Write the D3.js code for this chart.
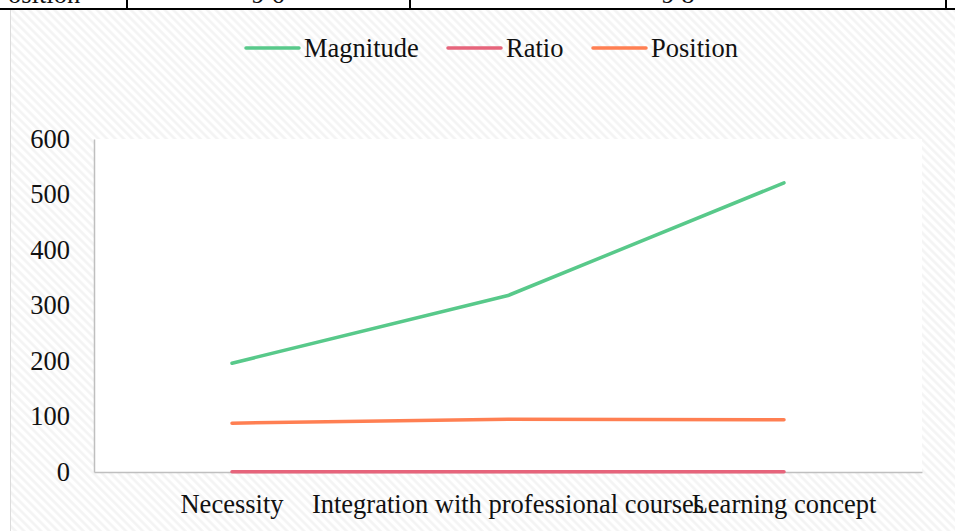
<!DOCTYPE html>
<html lang="en">

<head>
	<meta charset="UTF-8">
	<title>Line Chart</title>
	<script src="https://d3js.org/d3.v7.min.js"></script>
	<style>
		body {
			margin: 0;
			background: #fff;
		}

		text {
			font-family: "Liberation Serif", "Times New Roman", serif;
			font-size: 26.5px;
			fill: #111;
		}

		.series {
			fill: none;
			stroke-width: 3.5px;
			stroke-linecap: round;
			stroke-linejoin: round;
		}
	</style>
</head>

<body>
	<script>
		const width = 955;
		const height = 531;

		const categories = ["Necessity", "Integration with professional courses", "Learning concept"];
		const seriesNames = ["Magnitude", "Ratio", "Position"];
		const magnitude = [196, 318, 521];
		const ratio = [0.3, 0.35, 0.6];
		const position = [88, 95, 94];
		const yTicks = [0, 100, 200, 300, 400, 500, 600];
		const colors = ["#58c98a", "#e6647b", "#ff7f52"];

		const series = [magnitude, ratio, position];

		const margin = { top: 139, right: 33, bottom: 59, left: 94 };

		const svg = d3.select("body").append("svg")
			.attr("width", width)
			.attr("height", height);

		// hatched background
		const pattern = svg.append("defs").append("pattern")
			.attr("id", "hatch")
			.attr("width", 6)
			.attr("height", 6)
			.attr("patternUnits", "userSpaceOnUse")
			.attr("patternTransform", "rotate(-45)");
		pattern.append("rect").attr("width", 6).attr("height", 6).attr("fill", "#fff");
		pattern.append("line")
			.attr("x1", 1.5).attr("y1", 0).attr("x2", 1.5).attr("y2", 6)
			.attr("stroke", "#f3f3f3").attr("stroke-width", 2.5);

		svg.append("rect")
			.attr("x", 10).attr("y", 10)
			.attr("width", width - 10).attr("height", height - 10)
			.attr("fill", "url(#hatch)");

		// piece of the table above the chart
		svg.append("line")
			.attr("x1", 10.5).attr("y1", 10).attr("x2", 10.5).attr("y2", height)
			.attr("stroke", "#dcdcdc").attr("stroke-width", 1);
		svg.append("line")
			.attr("x1", 0).attr("y1", 9).attr("x2", width).attr("y2", 9)
			.attr("stroke", "#000").attr("stroke-width", 2);
		[127, 410, 946].forEach(x => {
			svg.append("line")
				.attr("x1", x).attr("y1", 0).attr("x2", x).attr("y2", 9)
				.attr("stroke", "#000").attr("stroke-width", 2);
		});
		svg.append("text").attr("x", 8).attr("y", 3).text("osition");
		svg.append("text").attr("x", 268).attr("y", 3).attr("text-anchor", "middle").text("9 6");
		svg.append("text").attr("x", 678).attr("y", 3).attr("text-anchor", "middle").text("9 8");

		const x = d3.scaleBand()
			.domain(categories)
			.range([margin.left, width - margin.right]);

		const y = d3.scaleLinear()
			.domain([0, 600])
			.range([height - margin.bottom, margin.top]);

		// plot area
		svg.append("rect")
			.attr("x", margin.left)
			.attr("y", margin.top)
			.attr("width", width - margin.left - margin.right)
			.attr("height", height - margin.top - margin.bottom)
			.attr("fill", "#fff");

		const yAxis = svg.append("g")
			.attr("transform", `translate(${margin.left},0)`)
			.call(d3.axisLeft(y).tickValues(yTicks).tickSize(0).tickPadding(24));
		yAxis.select(".domain").attr("stroke", "#bfbfbf").attr("stroke-width", 1.5);
		yAxis.selectAll("text")
			.attr("dy", "0.32em")
			.style("font-size", "26.5px")
			.style("font-family", "Liberation Serif");

		const xAxis = svg.append("g")
			.attr("transform", `translate(0,${height - margin.bottom})`)
			.call(d3.axisBottom(x).tickSize(0).tickPadding(22));
		xAxis.select(".domain").attr("stroke", "#bfbfbf").attr("stroke-width", 1.5);
		xAxis.selectAll("text")
			.style("font-size", "26.5px")
			.style("font-family", "Liberation Serif");

		const line = d3.line()
			.x((d, i) => x(categories[i]) + x.bandwidth() / 2)
			.y(d => y(d));

		svg.append("g")
			.selectAll("path")
			.data(series)
			.enter().append("path")
			.attr("class", "series")
			.attr("stroke", (d, i) => colors[i])
			.attr("d", line);

		// legend
		const legendX = [246, 448, 593];
		const legend = svg.append("g")
			.selectAll("g")
			.data(seriesNames)
			.enter().append("g")
			.attr("transform", (d, i) => `translate(${legendX[i]},48)`);

		legend.append("line")
			.attr("x1", 0).attr("x2", 53)
			.attr("stroke", (d, i) => colors[i])
			.attr("stroke-width", 3.5)
			.attr("stroke-linecap", "round");

		legend.append("text")
			.attr("x", 58)
			.attr("y", 9)
			.text(d => d);
	</script>
</body>

</html>
